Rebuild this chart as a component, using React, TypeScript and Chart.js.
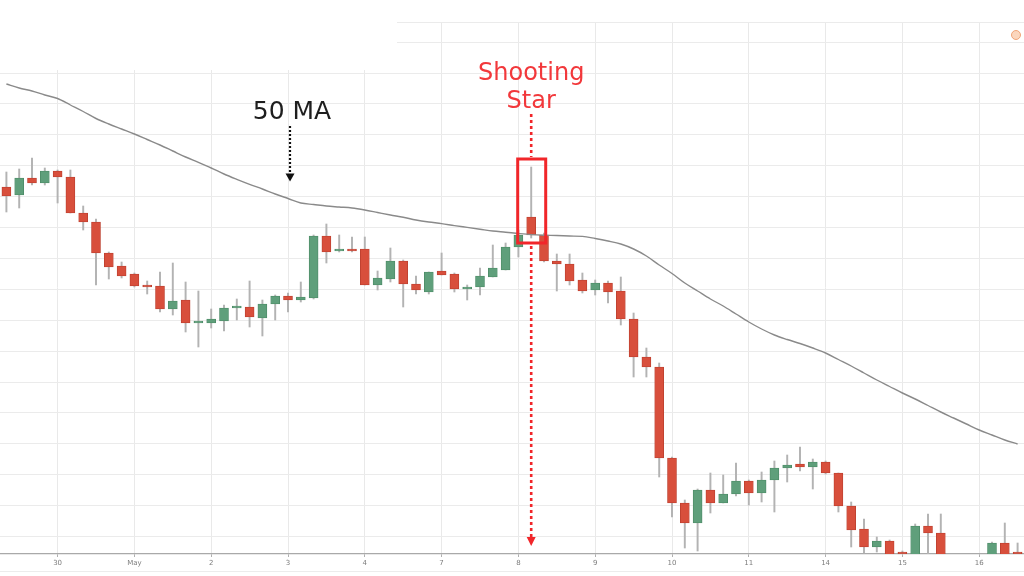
import React, { useEffect, useRef } from "react";
import { Chart, registerables } from "chart.js";

Chart.register(...registerables);

// ---- data ----
const dayLabels = ["30", "May", "2", "3", "4", "7", "8", "9", "10", "11", "14", "15", "16"];
const firstDayIndex = 4;
const candlesPerDay = 6;
const candleCount = 80;

const opens = [413, 405, 422, 417, 429, 423, 387, 378, 347, 334, 326, 315, 314, 291, 300, 277, 277, 279, 292, 293, 282, 296, 304, 300, 302, 364, 349, 351, 351, 315, 321, 339, 316, 308, 329, 326, 311, 313, 323, 330, 353, 383, 365, 339, 336, 320, 310, 317, 309, 281, 243, 233, 142, 97, 77, 110, 97, 106, 119, 107, 120, 132, 136, 133, 138, 127, 94, 71, 53, 59, 48, 44, 74, 67, 40, 35, 30, 40, 57, 44];
const highs = [428, 431, 442, 432, 430, 430, 394, 381, 348, 338, 327, 319, 328, 337, 318, 309, 291, 295, 301, 319, 300, 305, 307, 318, 365, 376, 365, 363, 363, 329, 352, 340, 324, 328, 347, 327, 315, 332, 355, 357, 370, 433, 367, 346, 346, 327, 320, 319, 323, 287, 252, 237, 143, 100, 111, 127, 125, 137, 120, 128, 139, 145, 153, 141, 139, 127, 98, 81, 63, 60, 49, 76, 86, 86, 44, 42, 45, 58, 77, 57];
const lows = [388, 392, 415, 415, 397, 387, 370, 315, 321, 322, 313, 306, 288, 285, 268, 253, 272, 269, 280, 273, 264, 280, 288, 298, 301, 337, 348, 348, 315, 310, 318, 293, 306, 306, 325, 308, 300, 305, 323, 330, 343, 362, 338, 309, 315, 307, 305, 297, 275, 223, 223, 123, 83, 52, 49, 87, 97, 104, 95, 98, 88, 118, 129, 111, 126, 88, 53, 47, 48, 45, 44, 40, 46, 38, 30, 25, 25, 38, 38, 40];
const closes = [404, 422, 417, 429, 423, 387, 378, 347, 333, 324, 314, 313, 291, 299, 277, 278, 281, 292, 294, 283, 296, 304, 300, 303, 364, 348, 350, 349, 315, 322, 339, 316, 310, 328, 325, 311, 313, 324, 332, 353, 365, 365, 339, 336, 319, 309, 317, 308, 281, 243, 233, 142, 97, 77, 110, 97, 106, 119, 107, 120, 132, 135, 133, 138, 127, 94, 70, 53, 59, 44, 46, 74, 67, 40, 35, 30, 40, 57, 40, 43];
const ma50 = [516, 512, 509, 505, 501.5, 495, 488.5, 481.5, 476, 471, 466, 460.5, 455, 449, 443, 437.6, 432, 426, 420.7, 415.7, 411, 406, 401.5, 397, 395.5, 394, 393, 392, 390, 387.5, 385, 382.7, 380, 378, 376.4, 374.4, 372.6, 370.8, 369, 367.8, 366.5, 365.4, 364.8, 364.5, 364, 363.6, 361.5, 359, 356, 351, 344, 335, 326.5, 317, 309, 301, 294, 286, 278, 271, 265, 260.5, 256.5, 252, 247, 240.5, 234, 227, 220, 213.5, 207, 201, 194.5, 188, 182, 176, 170, 165, 160, 156];

const yMin = 46;
const yMax = 578;
const gridStart = 63.5;
const gridStep = 30.9;
const shootingStarIndex = 41;
const maLabelIndex = 22;

const RED = "#d84f3c";
const RED_EDGE = "#bb3f2e";
const GREEN = "#5f9f7b";
const GREEN_EDGE = "#4c8a66";

const labels = Array.from({ length: candleCount }, (_, i) => {
  const d = i - firstDayIndex;
  return d >= 0 && d % candlesPerDay === 0 ? dayLabels[d / candlesPerDay] ?? "" : "";
});

const annotations = {
  id: "annotations",
  beforeDatasetsDraw(chart: any) {
    const ctx = chart.ctx;
    ctx.save();
    ctx.fillStyle = "#ffffff";
    ctx.fillRect(0, 0, 397, 70);
    ctx.restore();
  },
  afterDraw(chart: any) {
    const ctx = chart.ctx;
    const xs = chart.scales.x;
    const ys = chart.scales.y;
    const area = chart.chartArea;
    ctx.save();

    // Shooting star box + dotted line
    const sx = xs.getPixelForValue(shootingStarIndex);
    const boxTop = ys.getPixelForValue(highs[shootingStarIndex]) - 8;
    const boxBottom = ys.getPixelForValue(lows[shootingStarIndex]) + 5;
    const red = "#f1262a";
    ctx.strokeStyle = red;
    ctx.lineWidth = 3;
    ctx.strokeRect(sx - 13.5, boxTop, 28, boxBottom - boxTop);

    ctx.setLineDash([3, 3]);
    ctx.lineWidth = 2.6;
    ctx.beginPath();
    ctx.moveTo(sx, 114);
    ctx.lineTo(sx, boxTop - 2);
    ctx.moveTo(sx, boxBottom + 3);
    ctx.lineTo(sx, area.bottom - 16);
    ctx.stroke();
    ctx.setLineDash([]);
    ctx.fillStyle = red;
    ctx.beginPath();
    ctx.moveTo(sx - 4.5, area.bottom - 17);
    ctx.lineTo(sx + 4.5, area.bottom - 17);
    ctx.lineTo(sx, area.bottom - 8);
    ctx.closePath();
    ctx.fill();

    ctx.font = "24px 'DejaVu Sans'";
    ctx.textAlign = "center";
    ctx.textBaseline = "alphabetic";
    ctx.fillStyle = "#f2383b";
    ctx.fillText("Shooting", sx, 80);
    ctx.fillText("Star", sx, 108);

    // 50 MA label + arrow
    const mx = xs.getPixelForValue(maLabelIndex);
    const tipY = ys.getPixelForValue(ma50[maLabelIndex]) - 17;
    ctx.fillStyle = "#1e1e1e";
    ctx.font = "25px 'DejaVu Sans'";
    ctx.fillText("50 MA", mx + 4, 119);
    ctx.strokeStyle = "#111";
    ctx.lineWidth = 2.2;
    ctx.setLineDash([2, 2]);
    ctx.beginPath();
    ctx.moveTo(mx + 2, 126);
    ctx.lineTo(mx + 2, tipY - 7);
    ctx.stroke();
    ctx.setLineDash([]);
    ctx.fillStyle = "#111";
    ctx.beginPath();
    ctx.moveTo(mx - 2.5, tipY - 8);
    ctx.lineTo(mx + 6.5, tipY - 8);
    ctx.lineTo(mx + 2, tipY);
    ctx.closePath();
    ctx.fill();

    // small orange marker top right
    ctx.beginPath();
    ctx.arc(chart.width - 8, 35, 4.5, 0, Math.PI * 2);
    ctx.fillStyle = "#fbd6bd";
    ctx.fill();
    ctx.strokeStyle = "#f0a478";
    ctx.lineWidth = 1;
    ctx.stroke();

    // faint lower line
    ctx.strokeStyle = "#ececec";
    ctx.lineWidth = 1;
    ctx.beginPath();
    ctx.moveTo(0, 571.5);
    ctx.lineTo(chart.width, 571.5);
    ctx.stroke();

    ctx.restore();
  },
};

export default function App() {
  const ref = useRef<HTMLCanvasElement | null>(null);

  useEffect(() => {
    if (!ref.current) return;
    const bodyColors = opens.map((o, i) => (closes[i] >= o ? GREEN : RED));
    const edgeColors = opens.map((o, i) => (closes[i] >= o ? GREEN_EDGE : RED_EDGE));
    const chart = new Chart(ref.current, {
      type: "bar",
      data: {
        labels,
        datasets: [
          {
            type: "line",
            label: "50 MA",
            data: ma50,
            borderColor: "#8a8a8a",
            borderWidth: 1.4,
            pointRadius: 0,
            cubicInterpolationMode: "monotone",
            order: 0,
          } as any,
          {
            type: "bar",
            label: "body",
            data: opens.map((o, i) => [o, closes[i]]),
            backgroundColor: bodyColors,
            borderColor: edgeColors,
            borderWidth: 0.8,
            borderSkipped: false,
            barThickness: 9,
            minBarLength: 2,
            grouped: false,
            order: 1,
            clip: 0,
          } as any,
          {
            type: "bar",
            label: "wick",
            data: lows.map((l, i) => [l, highs[i]]),
            backgroundColor: "#b3b3b3",
            barThickness: 1.3,
            grouped: false,
            order: 2,
            clip: 0,
          } as any,
        ],
      },
      options: {
        responsive: true,
        maintainAspectRatio: false,
        animation: false,
        layout: { padding: { top: 22, left: 0, right: 0, bottom: 0 } },
        plugins: { legend: { display: false }, tooltip: { enabled: false } },
        scales: {
          x: {
            type: "category",
            offset: true,
            afterFit: (s: any) => {
              s.height = 22;
            },
            grid: {
              offset: false,
              color: (c: any) => (labels[c.index] ? "#e9e9e9" : "rgba(0,0,0,0)"),
              tickColor: (c: any) => (labels[c.index] ? "#b0b0b0" : "rgba(0,0,0,0)"),
              tickLength: 3,
              drawTicks: true,
            },
            border: { display: true, color: "#a9a9a9", width: 1.3 },
            ticks: {
              autoSkip: false,
              maxRotation: 0,
              padding: 2,
              color: "#7d7d7d",
              font: { size: 7, family: "'DejaVu Sans'" },
              callback: (_v: any, i: number) => labels[i],
            },
          },
          y: {
            type: "linear",
            min: yMin,
            max: yMax,
            afterFit: (s: any) => {
              s.width = 0;
            },
            afterBuildTicks: (s: any) => {
              const t: any[] = [];
              for (let v = gridStart; v < yMax; v += gridStep) t.push({ value: v });
              t.push({ value: yMax });
              s.ticks = t;
            },
            ticks: { display: false },
            grid: { color: "#ebebeb", drawTicks: false },
            border: { display: false },
          },
        },
      },
      plugins: [annotations],
    });
    return () => chart.destroy();
  }, []);

  return (
    <div style={{ position: "fixed", left: 0, top: 0, width: 1024, height: 576, background: "#fff" }}>
      <canvas ref={ref} />
    </div>
  );
}
